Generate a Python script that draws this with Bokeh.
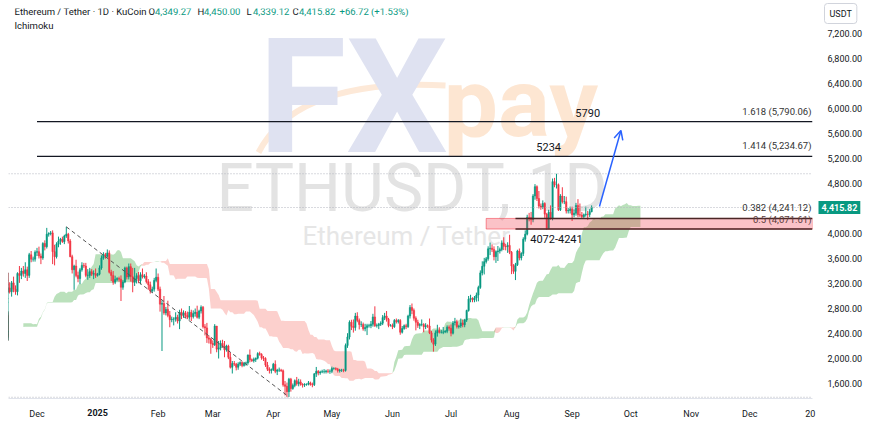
import numpy as np
import pandas as pd
from bokeh.plotting import figure
from bokeh.models import FixedTicker, NumeralTickFormatter, Label, Span, Arrow, OpenHead, Range1d
from bokeh.embed import file_html
from bokeh.resources import INLINE

# ---------------- data (ETHUSDT daily, KuCoin) ----------------
start_date = "2024-09-09"
first_open = 2300.0

close_2024_09 = [2360, 2390, 2340, 2360, 2440, 2420, 2320, 2290, 2340, 2370,
                 2470, 2560, 2610, 2580, 2650, 2650, 2580, 2630, 2700, 2680,
                 2660, 2600]
close_2024_10 = [2450, 2360, 2350, 2420, 2410, 2440, 2420, 2440, 2370, 2390,
                 2440, 2475, 2470, 2630, 2605, 2610, 2605, 2645, 2650, 2750,
                 2670, 2620, 2520, 2535, 2470, 2500, 2510, 2570, 2680, 2660,
                 2520]
close_2024_11 = [2510, 2490, 2460, 2400, 2430, 2720, 2900, 2960, 3130, 3180,
                 3370, 3250, 3190, 3060, 3100, 3130, 3070, 3210, 3110, 3070,
                 3360, 3330, 3400, 3360, 3420, 3330, 3660, 3590, 3590, 3700]
close_2024_12 = [3710, 3640, 3610, 3840, 3790, 3990, 4000, 4010, 3710, 3630,
                 3830, 3880, 3910, 3870, 3960, 3990, 3880, 3630, 3420, 3480,
                 3330, 3280, 3420, 3490, 3480, 3330, 3330, 3390, 3350, 3360,
                 3330]
close_2025_01 = [3350, 3450, 3610, 3660, 3635, 3690, 3380, 3330, 3220, 3265,
                 3280, 3270, 3140, 3225, 3450, 3305, 3470, 3310, 3220, 3280,
                 3325, 3245, 3340, 3310, 3320, 3230, 3180, 3080, 3110, 3250,
                 3300]
close_2025_02 = [3110, 2870, 2880, 2730, 2785, 2690, 2620, 2630, 2630, 2660,
                 2600, 2740, 2690, 2730, 2690, 2660, 2740, 2670, 2720, 2740,
                 2660, 2760, 2820, 2510, 2490, 2330, 2310, 2240]
close_2025_03 = [2220, 2520, 2150, 2170, 2240, 2200, 2140, 2200, 2020, 1860,
                 1920, 1910, 1860, 1910, 1935, 1890, 1925, 1930, 2055, 1980,
                 1965, 1985, 2005, 2080, 2065, 2010, 2000, 1895, 1830, 1810,
                 1820]
close_2025_04 = [1910, 1795, 1815, 1815, 1805, 1580, 1555, 1470, 1670, 1520,
                 1570, 1645, 1595, 1625, 1585, 1575, 1585, 1590, 1610, 1585,
                 1580, 1755, 1795, 1770, 1785, 1790, 1790, 1800, 1795, 1795]
close_2025_05 = [1840, 1840, 1830, 1805, 1815, 1815, 1810, 2210, 2345, 2580,
                 2515, 2495, 2680, 2610, 2545, 2545, 2475, 2495, 2525, 2525,
                 2550, 2665, 2525, 2530, 2550, 2565, 2655, 2680, 2630, 2530,
                 2530]
close_2025_06 = [2510, 2610, 2590, 2610, 2420, 2480, 2525, 2510, 2680, 2815,
                 2770, 2645, 2580, 2530, 2545, 2545, 2510, 2525, 2520, 2410,
                 2295, 2230, 2410, 2450, 2420, 2420, 2425, 2435, 2500, 2485]
close_2025_07 = [2405, 2570, 2590, 2510, 2520, 2570, 2540, 2615, 2770, 2950,
                 2960, 2940, 2970, 3015, 3135, 3370, 3475, 3550, 3595, 3755,
                 3765, 3745, 3630, 3710, 3720, 3745, 3850, 3795, 3790, 3810,
                 3700]
close_2025_08 = [3480, 3395, 3500, 3720, 3610, 3680, 3910, 3990, 4260, 4255,
                 4220, 4600, 4750, 4560, 4440, 4420, 4480, 4310, 4080, 4340,
                 4240, 4830, 4780, 4780, 4380, 4600, 4510, 4510, 4360, 4370,
                 4390]
close_2025_09 = [4300, 4325, 4450, 4300, 4295, 4270, 4300, 4310, 4305, 4349.27,
                 4415.82]

# upper wick above max(open, close) and lower wick below min(open, close)
wick_up_2024_09 = [40, 50, 50, 40, 50, 30, 40, 50, 60, 80, 60, 50, 30, 40, 60, 50, 40, 40, 30, 40, 40, 30]
wick_dn_2024_09 = [60, 40, 50, 30, 40, 30, 50, 40, 40, 60, 40, 40, 50, 30, 30, 40, 40, 30, 50, 40, 30, 50]
wick_up_2024_10 = [60, 40, 50, 30, 30, 20, 100, 40, 40, 30, 30, 30, 20, 30, 70, 80, 40, 30, 30, 20,
                   20, 30, 30, 20, 80, 30, 20, 40, 40, 60, 50]
wick_dn_2024_10 = [30, 40, 40, 30, 40, 30, 20, 40, 30, 40, 30, 30, 30, 20, 70, 60, 30, 30, 20, 20,
                   50, 30, 40, 30, 50, 20, 30, 30, 20, 30, 20]
wick_up_2024_11 = [40, 40, 40, 80, 60, 50, 40, 50, 30, 70, 80, 110, 50, 180, 30, 50, 90, 30, 100, 60,
                   20, 120, 50, 80, 120, 50, 30, 60, 40, 30]
wick_dn_2024_11 = [40, 40, 40, 40, 50, 100, 50, 60, 50, 80, 100, 60, 70, 50, 80, 60, 30, 80, 50, 50,
                   60, 120, 60, 50, 70, 90, 40, 50, 40, 40]
wick_up_2024_12 = [60, 80, 40, 20, 50, 100, 20, 30, 40, 110, 30, 70, 20, 40, 20, 117, 20, 30, 30, 20,
                   100, 60, 30, 50, 40, 50, 100, 60, 40, 50, 80]
wick_dn_2024_12 = [60, 40, 100, 30, 60, 30, 40, 30, 200, 140, 30, 50, 60, 20, 40, 30, 40, 10, 60, 320,
                   30, 60, 90, 30, 30, 30, 70, 40, 30, 80, 40]
wick_up_2025_01 = [20, 40, 40, 40, 30, 55, 40, 40, 70, 60, 20, 30, 60, 30, 20, 20, 50, 50, 140, 170,
                   40, 60, 40, 100, 30, 60, 40, 50, 40, 40, 140]
wick_dn_2025_01 = [20, 20, 30, 30, 40, 20, 20, 90, 40, 30, 30, 40, 220, 40, 20, 40, 40, 80, 160, 60,
                   80, 40, 60, 30, 30, 30, 80, 40, 30, 40, 30]
wick_up_2025_02 = [60, 40, 50, 120, 40, 140, 70, 40, 30, 80, 40, 40, 60, 40, 30, 60, 100, 40, 50, 60,
                   105, 20, 30, 20, 40, 80, 40, 20]
wick_dn_2025_02 = [30, 120, 750, 30, 40, 30, 120, 40, 100, 40, 40, 130, 60, 40, 40, 30, 40, 70, 30, 50,
                   20, 30, 40, 30, 120, 80, 70, 164]
wick_up_2025_03 = [50, 30, 0, 110, 50, 60, 80, 20, 20, 80, 40, 40, 20, 30, 20, 20, 20, 20, 10, 90,
                   20, 30, 10, 20, 30, 20, 30, 20, 50, 30, 20]
wick_dn_2025_03 = [50, 20, 50, 150, 40, 30, 120, 30, 30, 20, 100, 30, 50, 40, 30, 30, 20, 40, 30, 40,
                   20, 30, 40, 20, 20, 30, 40, 30, 30, 50, 50]
wick_up_2025_04 = [20, 60, 20, 40, 20, 20, 60, 60, 20, 20, 30, 20, 60, 50, 40, 20, 20, 10, 30, 20,
                   30, 10, 70, 20, 20, 30, 40, 20, 30, 30]
wick_dn_2025_04 = [20, 30, 60, 30, 20, 30, 145, 90, 85, 50, 20, 30, 30, 40, 20, 40, 30, 20, 20, 20,
                   40, 20, 50, 40, 30, 20, 30, 30, 30, 40]
wick_up_2025_05 = [30, 20, 20, 20, 20, 20, 20, 30, 60, 30, 40, 110, 50, 60, 30, 50, 30, 60, 30, 30,
                   50, 50, 170, 30, 20, 30, 40, 50, 80, 20, 20]
wick_dn_2025_05 = [30, 20, 20, 30, 30, 30, 30, 20, 40, 40, 60, 80, 50, 30, 80, 40, 30, 40, 120, 30,
                   40, 40, 20, 30, 60, 30, 30, 40, 40, 30, 20]
wick_up_2025_06 = [30, 20, 30, 20, 20, 40, 20, 30, 20, 40, 65, 30, 30, 40, 20, 80, 20, 40, 20, 120,
                   30, 30, 40, 90, 50, 40, 80, 20, 30, 30]
wick_dn_2025_06 = [40, 20, 30, 30, 40, 20, 20, 40, 20, 40, 60, 40, 130, 40, 60, 30, 90, 40, 30, 20,
                   40, 120, 30, 60, 20, 20, 30, 20, 30, 40]
wick_up_2025_07 = [60, 30, 60, 30, 20, 70, 50, 20, 10, 50, 60, 20, 30, 40, 30, 40, 80, 60, 30, 40,
                   90, 60, 50, 20, 80, 30, 40, 90, 40, 50, 170]
wick_dn_2025_07 = [50, 20, 40, 30, 30, 30, 40, 40, 30, 20, 50, 40, 40, 60, 100, 20, 40, 130, 30, 30,
                   100, 40, 60, 100, 150, 40, 30, 60, 60, 100, 30]
wick_up_2025_08 = [20, 30, 30, 20, 40, 20, 30, 60, 40, 70, 90, 30, 40, 20, 120, 40, 50, 20, 20, 40,
                   110, 50, 60, 176, 20, 30, 140, 90, 80, 40, 40]
wick_dn_2025_08 = [130, 40, 140, 20, 40, 40, 40, 40, 20, 60, 80, 40, 60, 40, 40, 40, 30, 60, 20, 10,
                   20, 30, 40, 60, 20, 20, 30, 40, 40, 40, 50]
wick_up_2025_09 = [40, 60, 40, 100, 180, 50, 20, 120, 50, 40, 34.18]
wick_dn_2025_09 = [100, 40, 40, 40, 30, 30, 20, 30, 90, 40, 10.15]

# axis labels
month_labels = ["Dec", "2025", "Feb", "Mar", "Apr", "May", "Jun", "Jul", "Aug", "Sep", "Oct", "Nov", "Dec", "20"]
price_ticks = [1600, 2000, 2400, 2800, 3200, 3600, 4000, 4800, 5200, 5600, 6000, 6400, 6800, 7200]

# fib / zone drawings
fib_levels = [5790.06, 5234.67, 4241.12, 4071.61]
fib_labels = ["1.618 (5,790.06)", "1.414 (5,234.67)", "0.382 (4,241.12)", "0.5 (4,071.61)"]
target_texts = ["5790", "5234"]
target_dates = ["2025-09-09", "2025-08-20"]
zone_text = "4072-4241"
zone_text_date = "2025-08-24"
upper_fib_start = "2024-12-01"
lower_fib_start = "2025-08-03"
zone_start = "2025-07-19"
trend_from = "2024-12-16"
trend_to = "2025-04-09"
arrow_from = ("2025-09-15", 4432)
arrow_to = ("2025-09-26", 5648)

header_name = "Ethereum / Tether · 1D · KuCoin"
header_ohlc = [("O", "4,349.27"), ("H", "4,450.00"), ("L", "4,339.12"), ("C", "4,415.82")]
header_change = "+66.72 (+1.53%)"

# ---------------- assemble ----------------
months = ["2024_09", "2024_10", "2024_11", "2024_12", "2025_01", "2025_02", "2025_03",
          "2025_04", "2025_05", "2025_06", "2025_07", "2025_08", "2025_09"]
g = globals()
closes, wup, wdn = [], [], []
for m in months:
    c, u, d = g["close_" + m], g["wick_up_" + m], g["wick_dn_" + m]
    if not (len(c) == len(u) == len(d)):
        raise ValueError(f"length mismatch {m}: {len(c)} {len(u)} {len(d)}")
    closes += c; wup += u; wdn += d
closes = np.array(closes, float)
wup = np.array(wup, float); wdn = np.array(wdn, float)
dates = pd.date_range(start_date, periods=len(closes), freq="D")
base = pd.Timestamp("2025-01-01")
def day(s):
    return float((pd.Timestamp(s) - base).days)
x = np.array([(d - base).days for d in dates], float)
opens = np.concatenate([[first_open], closes[:-1]])
highs = np.maximum(opens, closes) + wup
lows = np.minimum(opens, closes) - wdn

# Ichimoku (9, 26, 52, displacement 26)
hs, ls = pd.Series(highs), pd.Series(lows)
tenkan = (hs.rolling(9).max() + ls.rolling(9).min()) / 2
kijun = (hs.rolling(26).max() + ls.rolling(26).min()) / 2
span_a = ((tenkan + kijun) / 2).values
span_b = ((hs.rolling(52).max() + ls.rolling(52).min()) / 2).values
cx = x + 25
ok = ~np.isnan(span_b)
cx, ca, cb = cx[ok], span_a[ok], span_b[ok]
ctop = np.maximum(ca, cb)

# ---------------- figure ----------------
x_start, x_end = -45.6, 366.1
y_start, y_end = 1360, 7600
FL, FT, FW, FH = 8, 8, 804, 390   # frame position on the page

def dx(px):
    return x_start + (px - FL) / FW * (x_end - x_start)
def dy(py):
    return y_end - (py - FT) / FH * (y_end - y_start)
def sx(px):
    return px - FL
def sy(py):
    return FT + FH - py

p = figure(frame_width=FW, frame_height=FH, x_range=Range1d(x_start, x_end), y_range=Range1d(y_start, y_end),
           output_backend="svg", toolbar_location=None, y_axis_location="right",
           min_border_left=FL, min_border_top=FT, min_border_bottom=25, min_border_right=50)
p.outline_line_color = None
p.grid.visible = False
p.background_fill_color = "white"
p.border_fill_color = "white"

FONT = "Roboto"

# watermark (centres of the text, page pixels)
wm = [
    dict(text="FX", x=258, y=97, size="160px", color="#dfe2f1", style="bold"),
    dict(text="pay", x=443, y=102, size="97px", color="#fde6d2", style="bold"),
    dict(text="ETHUSDT, 1D", x=216, y=188, size="66px", color="#e3e3e3", style="normal"),
    dict(text="Ethereum / Tether", x=302, y=235, size="26px", color="#e6e6e6", style="normal"),
]
for w in wm:
    p.add_layout(Label(x=sx(w["x"]), y=sy(w["y"]), x_units="screen", y_units="screen", text=w["text"],
                       text_font=FONT, text_font_size=w["size"], text_color=w["color"],
                       text_font_style=w["style"], text_baseline="middle", level="underlay"))
sw = p.bezier(x0=dx(258), y0=dy(152), x1=dx(445), y1=dy(85), cx0=dx(285), cy0=dy(100),
              cx1=dx(350), cy1=dy(80), line_color="#fde9d8", line_width=6)
sw.level = "underlay"

# cloud
p.varea(x=cx, y1=cb, y2=ctop, fill_color="#4caf50", fill_alpha=0.38)
p.varea(x=cx, y1=ca, y2=ctop, fill_color="#f44336", fill_alpha=0.25)

# candles
up = closes >= opens
col = np.where(up, "#089981", "#f23645")
p.segment(x0=x, y0=highs, x1=x, y1=lows, line_color=col, line_width=1)
p.vbar(x=x, width=0.72, top=np.maximum(opens, closes), bottom=np.minimum(opens, closes),
       fill_color=col, line_color=col, line_width=0.5)

# dotted price lines
vis = x >= x_start
for lvl in [highs[vis].max(), lows[vis].min(), closes[-1]]:
    p.add_layout(Span(location=lvl, dimension="width", line_color="#b2b5be", line_dash="1 2", line_width=1))

# trendline (from swing high to swing low)
i0 = int(np.where(x == day(trend_from))[0][0]); i1 = int(np.where(x == day(trend_to))[0][0])
p.line([x[i0], x[i1]], [highs[i0], lows[i1]], line_color="#555555", line_dash="4 3", line_width=1)

# zone
p.quad(left=day(zone_start), right=x_end, bottom=fib_levels[3], top=fib_levels[2],
       fill_color="#f23645", fill_alpha=0.3, line_color="#f23645", line_alpha=0.55, line_width=1)

# fib lines
for lvl in fib_levels[:2]:
    p.segment(x0=day(upper_fib_start), y0=lvl, x1=x_end, y1=lvl, line_color="#131722", line_width=1.3)
for lvl in fib_levels[2:]:
    p.segment(x0=day(lower_fib_start), y0=lvl, x1=x_end, y1=lvl, line_color="#4a2626", line_width=1.4)

for lab, lvl, off in zip(fib_labels, fib_levels, [5, 5, 5, 4]):
    p.add_layout(Label(x=sx(811), y=lvl, x_units="screen", y_units="data", text=lab, text_align="right",
                       text_baseline="bottom", y_offset=off, text_font=FONT, text_font_size="9.5px",
                       text_color="#333333" if lab[:3] != "0.5" else "#5a3a3a"))
for t, d, lvl in zip(target_texts, target_dates, fib_levels[:2]):
    p.add_layout(Label(x=day(d), y=lvl, text=t, text_align="center", text_baseline="bottom", y_offset=5,
                       text_font=FONT, text_font_size="11px", text_color="#131722"))
p.add_layout(Label(x=day(zone_text_date), y=fib_levels[3], text=zone_text, text_align="center",
                   text_baseline="top", y_offset=-6, text_font=FONT, text_font_size="11px", text_color="#131722"))

# arrow
p.add_layout(Arrow(end=OpenHead(size=9, line_color="#2962ff", line_width=1.5),
                   x_start=day(arrow_from[0]), y_start=arrow_from[1], x_end=day(arrow_to[0]), y_end=arrow_to[1],
                   line_color="#2962ff", line_width=1.5))

# header
p.add_layout(Label(x=sx(14), y=sy(11), x_units="screen", y_units="screen", text=header_name,
                   text_baseline="middle", text_font=FONT, text_font_size="9.5px", text_color="#131722"))
hx = [148, 197, 246, 292]
for (k, v), px in zip(header_ohlc, hx):
    p.add_layout(Label(x=sx(px), y=sy(11), x_units="screen", y_units="screen", text=k,
                       text_baseline="middle", text_font=FONT, text_font_size="9.5px", text_color="#131722"))
    p.add_layout(Label(x=sx(px + 6.5), y=sy(11), x_units="screen", y_units="screen", text=v,
                       text_baseline="middle", text_font=FONT, text_font_size="9.5px", text_color="#089981"))
p.add_layout(Label(x=sx(339), y=sy(11), x_units="screen", y_units="screen", text=header_change,
                   text_baseline="middle", text_font=FONT, text_font_size="9.5px", text_color="#089981"))
p.add_layout(Label(x=sx(14), y=sy(25), x_units="screen", y_units="screen", text="Ichimoku",
                   text_baseline="middle", text_font=FONT, text_font_size="9.5px", text_color="#131722"))

# axes
tick_days = [int((d - base).days) for d in pd.date_range("2024-12-01", "2026-01-01", freq="MS")]
p.xaxis.ticker = FixedTicker(ticks=tick_days)
p.xaxis.major_label_overrides = {d: (lab if lab != "2025" else " ") for d, lab in zip(tick_days, month_labels)}
p.xaxis.major_tick_line_color = None
p.xaxis.minor_tick_line_color = None
p.xaxis.axis_line_color = "#e0e3eb"
p.xaxis.major_label_text_font = FONT
p.xaxis.major_label_text_font_size = "9px"
p.xaxis.major_label_text_color = "#131722"
p.xaxis.major_label_standoff = 4

p.yaxis.ticker = FixedTicker(ticks=price_ticks)
p.yaxis.formatter = NumeralTickFormatter(format="0,0.00")
p.yaxis.axis_line_color = None
p.yaxis.major_tick_line_color = None
p.yaxis.minor_tick_line_color = None
p.yaxis.major_label_text_font = FONT
p.yaxis.major_label_text_font_size = "9px"
p.yaxis.major_label_text_color = "#131722"
p.yaxis.major_label_standoff = 9

# labels living in the axis areas (side panels, so they are not clipped to the frame)
p.add_layout(Label(x=0, y=dy(412), text="2025", text_align="center", text_baseline="middle",
                   text_font=FONT, text_font_size="9px", text_font_style="bold", text_color="#131722"), "below")
p.add_layout(Label(x=dx(824), y=dy(13), text="USDT", text_baseline="middle", text_font=FONT,
                   text_font_size="9px", text_color="#131722", padding=5, border_line_color="#d1d4dc",
                   border_radius=3, background_fill_color="white"), "right")
p.add_layout(Label(x=dx(818), y=closes[-1], text=f"{closes[-1]:,.2f}", text_baseline="middle", text_font=FONT,
                   text_font_size="9px", text_color="white", text_font_style="bold", padding=3,
                   background_fill_color="#089981"), "right")

open("out.html", "w").write(file_html(p, INLINE))
